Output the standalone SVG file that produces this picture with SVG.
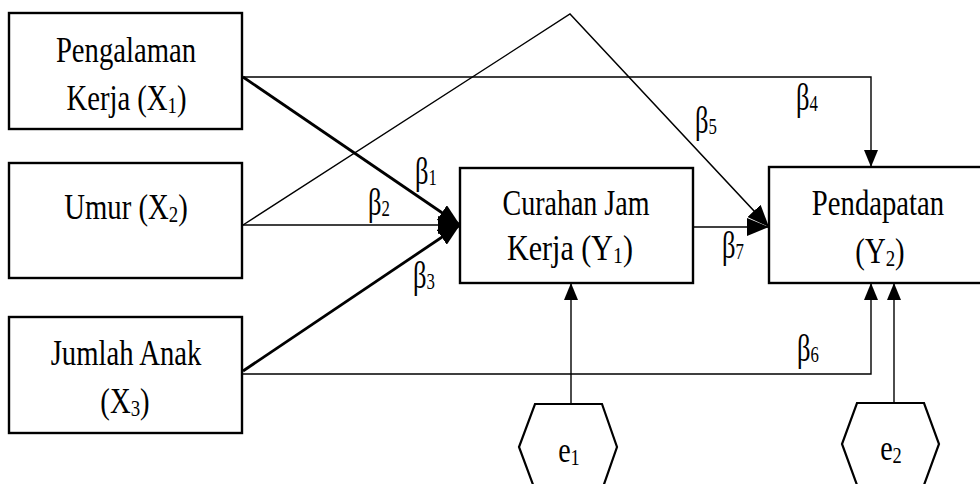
<svg xmlns="http://www.w3.org/2000/svg" width="980" height="484" viewBox="0 0 980 484">
<style>
text{font-family:"Liberation Serif","Times New Roman",serif;fill:#000;}
.lbl{font-size:35px;}
.sub{font-size:23px;}
.beta{font-size:38px;}
.bsub{font-size:24px;}
.box{fill:#fff;stroke:#000;stroke-width:2.4;}
.thin{fill:none;stroke:#000;stroke-width:1.4;}
.thick{fill:none;stroke:#000;stroke-width:2.8;}
.hex{fill:#fff;stroke:#000;stroke-width:2.2;}
</style>
<defs>
<marker id="ah" markerUnits="userSpaceOnUse" markerWidth="18" markerHeight="14" refX="17" refY="7" orient="auto">
<path d="M0,0 L17,7 L0,14 z" fill="#000"/>
</marker>
<marker id="ahb" markerUnits="userSpaceOnUse" markerWidth="24" markerHeight="18" refX="22" refY="9" orient="auto">
<path d="M0,0 L22,9 L0,18 z" fill="#000"/>
</marker>
</defs>
<rect width="980" height="484" fill="#fff"/>
<g id="connectors">
<polyline class="thin" points="243,77 871,77 871,167" marker-end="url(#ah)"/>
<line class="thick" x1="243" y1="77" x2="460" y2="225" marker-end="url(#ahb)"/>
<line class="thin" x1="243" y1="225" x2="460" y2="225" marker-end="url(#ahb)"/>
<polyline class="thin" points="243,225 570,14 769,227" marker-end="url(#ahb)"/>
<line class="thick" x1="243" y1="371" x2="460" y2="225" marker-end="url(#ahb)"/>
<polyline class="thin" points="243,374 871,374 871,283" marker-end="url(#ah)"/>
<line class="thin" x1="693" y1="227" x2="769" y2="227" marker-end="url(#ahb)"/>
<line class="thin" x1="571" y1="404" x2="571" y2="283" marker-end="url(#ah)"/>
<line class="thin" x1="894" y1="403" x2="894" y2="283" marker-end="url(#ah)"/>
<text class="beta" transform="translate(415,184) scale(0.7,1)">β<tspan class="bsub" dy="1">1</tspan></text>
<text class="beta" transform="translate(368,215) scale(0.7,1)">β<tspan class="bsub" dy="1">2</tspan></text>
<text class="beta" transform="translate(413,288) scale(0.7,1)">β<tspan class="bsub" dy="1">3</tspan></text>
<text class="beta" transform="translate(796,110) scale(0.7,1)">β<tspan class="bsub" dy="1">4</tspan></text>
<text class="beta" transform="translate(695,133) scale(0.7,1)">β<tspan class="bsub" dy="1">5</tspan></text>
<text class="beta" transform="translate(797,361) scale(0.7,1)">β<tspan class="bsub" dy="1">6</tspan></text>
<text class="beta" transform="translate(722,258) scale(0.7,1)">β<tspan class="bsub" dy="1">7</tspan></text>
</g>
<g id="x1">
<rect class="box" x="9" y="13" width="233" height="116"/>
<text class="lbl" text-anchor="middle" transform="translate(126,62) scale(0.82,1)">Pengalaman</text>
<text class="lbl" text-anchor="middle" transform="translate(126.5,110) scale(0.82,1)">Kerja (X<tspan class="sub" dy="3">1</tspan><tspan dy="-3">)</tspan></text>
</g>
<g id="x2">
<rect class="box" x="9" y="163" width="233" height="115"/>
<text class="lbl" text-anchor="middle" transform="translate(126,219) scale(0.82,1)">Umur (X<tspan class="sub" dy="3">2</tspan><tspan dy="-3">)</tspan></text>
</g>
<g id="x3">
<rect class="box" x="9" y="317" width="233" height="116"/>
<text class="lbl" text-anchor="middle" transform="translate(126,365) scale(0.82,1)">Jumlah Anak</text>
<text class="lbl" text-anchor="middle" transform="translate(125,413) scale(0.82,1)">(X<tspan class="sub" dy="3">3</tspan><tspan dy="-3">)</tspan></text>
</g>
<g id="y1">
<rect class="box" x="460" y="168" width="233" height="115"/>
<text class="lbl" text-anchor="middle" transform="translate(576,215) scale(0.8,1)">Curahan Jam</text>
<text class="lbl" text-anchor="middle" transform="translate(570,260) scale(0.86,1)">Kerja (Y<tspan class="sub" dy="3">1</tspan><tspan dy="-3">)</tspan></text>
</g>
<g id="y2">
<rect class="box" x="769" y="167" width="240" height="116"/>
<text class="lbl" text-anchor="middle" transform="translate(878,215) scale(0.82,1)">Pendapatan</text>
<text class="lbl" text-anchor="middle" transform="translate(880,263) scale(0.82,1)">(Y<tspan class="sub" dy="3">2</tspan><tspan dy="-3">)</tspan></text>
</g>
<g id="e1">
<polygon class="hex" points="535,404 602,404 617,447 602,490 535,490 519,447"/>
<text class="lbl" text-anchor="middle" transform="translate(569,462) scale(0.8,1)">e<tspan class="sub" dy="3">1</tspan></text>
</g>
<g id="e2">
<polygon class="hex" points="857,403 924,403 939,444 924,485 857,485 842,444"/>
<text class="lbl" text-anchor="middle" transform="translate(891,460) scale(0.8,1)">e<tspan class="sub" dy="3">2</tspan></text>
</g>
</svg>
